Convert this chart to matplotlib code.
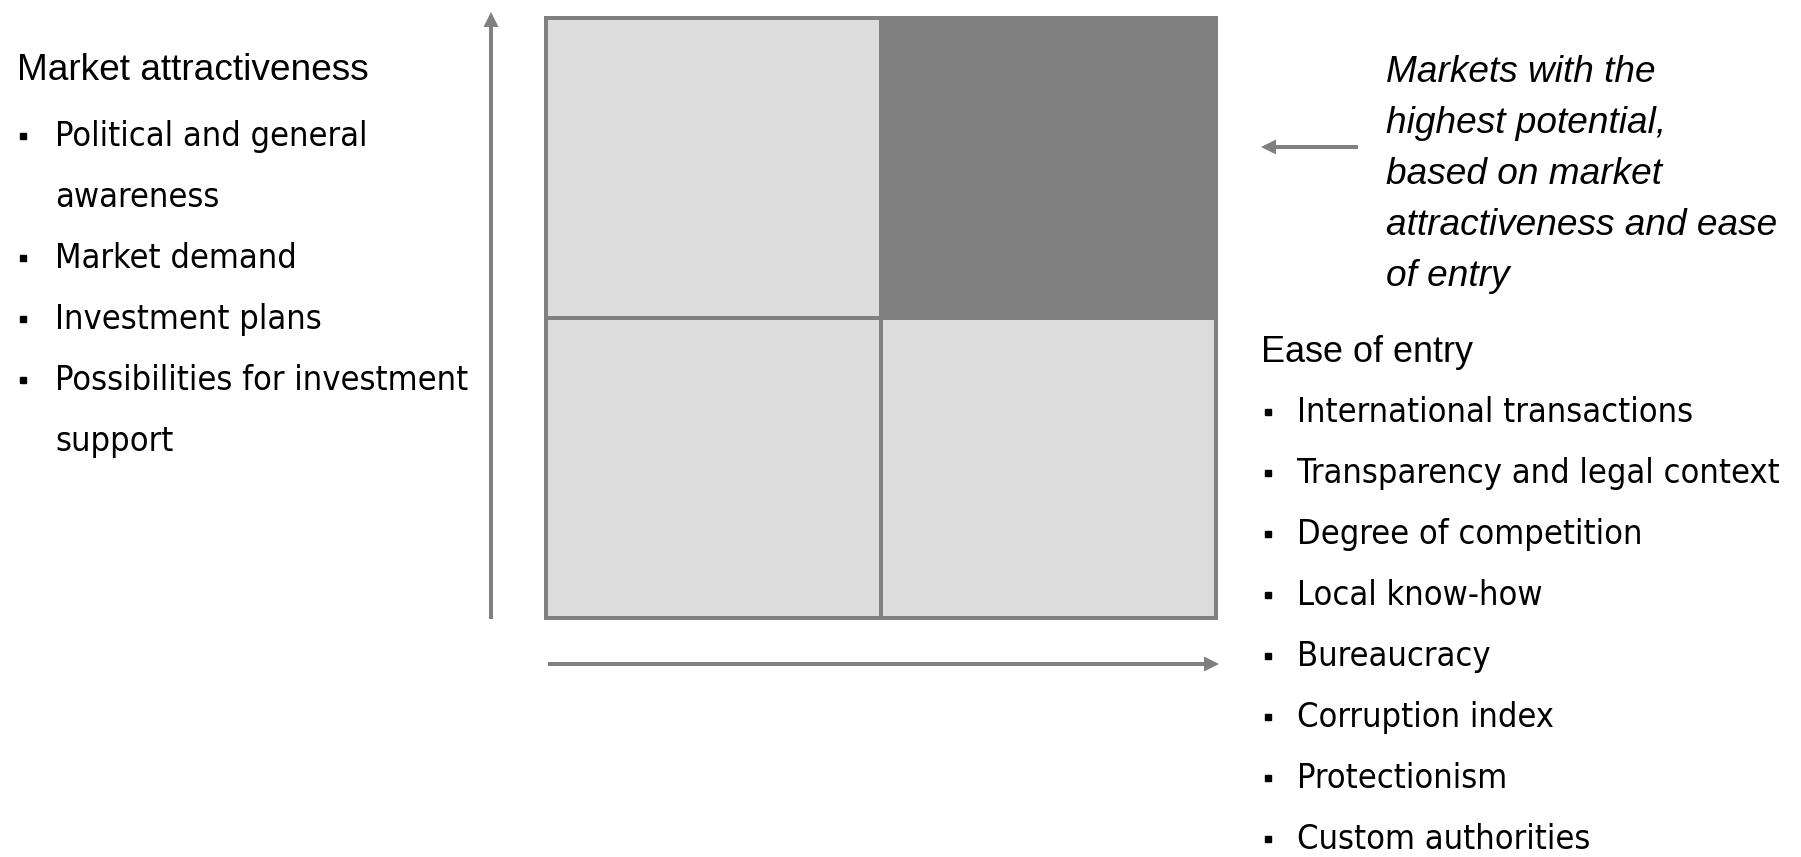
import matplotlib
matplotlib.use("Agg")
import matplotlib.pyplot as plt
from matplotlib import font_manager
from matplotlib.font_manager import FontProperties
from matplotlib.patches import Rectangle

# text content
attract_title = "Market attractiveness"
attract_items = [["Political and general", "awareness"],
                 ["Market demand"],
                 ["Investment plans"],
                 ["Possibilities for investment", "support"]]
entry_title = "Ease of entry"
entry_items = ["International transactions",
               "Transparency and legal context",
               "Degree of competition",
               "Local know-how",
               "Bureaucracy",
               "Corruption index",
               "Protectionism",
               "Custom authorities"]
note_lines = ["Markets with the",
              "highest potential,",
              "based on market",
              "attractiveness and ease",
              "of entry"]

# quadrants: (column, row) -> fill, row 1 = top
quad_cells = [(0, 0), (1, 0), (0, 1), (1, 1)]
quad_fill = ["#dcdcdc", "#dcdcdc", "#dcdcdc", "#808080"]

GREY = "#808080"


def narrow_font():
    # look for a condensed sans face, otherwise plain Liberation Sans
    for f in font_manager.fontManager.ttflist:
        nm = f.name.lower()
        if ("narrow" in nm or "condensed" in nm or f.stretch in ("condensed", "semi-condensed")) \
                and f.style == "normal" and f.weight in (400, "normal", "regular") \
                and "mono" not in nm and "serif" not in nm:
            return FontProperties(fname=f.fname)
    return FontProperties(family="Liberation Sans")


W, H = 1801, 857
fig = plt.figure(figsize=(W / 100, H / 100), dpi=100)
ax = fig.add_axes([0, 0, 1, 1])
ax.set_xlim(0, W)
ax.set_ylim(H, 0)
ax.axis("off")
renderer = fig.canvas.get_renderer()


def px(p):
    return p * 72 / 100


def fit_size(text, fp, width, max_px):
    # font size (pt) that gives the string the wanted pixel width
    t = ax.text(0, 0, text, fontproperties=fp, fontsize=px(max_px))
    w = t.get_window_extent(renderer).width
    t.remove()
    return px(min(max_px, max_px * width / w))


body = narrow_font()
body_pt = min(fit_size("Transparency and legal context", body, 490, 43),
              fit_size("Possibilities for investment", body, 413, 43))

# matrix
x0, x1, y0, y1 = 546, 1216, 18, 618
xm, ym = 881, 318
for (c, r), col in zip(quad_cells, quad_fill):
    left = x0 if c == 0 else xm
    top = ym if r == 0 else y0
    w = (xm - x0) if c == 0 else (x1 - xm)
    h = (y1 - ym) if r == 0 else (ym - y0)
    ax.add_patch(Rectangle((left, top), w, h, facecolor=col,
                           edgecolor=GREY, lw=px(4), zorder=1))
# dark cell covers its own border
ax.add_patch(Rectangle((xm - 2, y0 - 2), x1 - xm + 4, ym - y0 + 4,
                       facecolor=GREY, edgecolor="none", zorder=2))

# axis arrows
arr = dict(width=4, head_width=15, head_length=15, length_includes_head=True,
           color=GREY, lw=0, zorder=3)
ax.arrow(491, 619, 0, 12 - 619, **arr)
ax.arrow(548, 664, 1219 - 548, 0, **arr)
ax.arrow(1358, 147, 1261 - 1358, 0, **arr)

# left block
ax.text(17, 80, attract_title, fontsize=px(37), family="Liberation Sans", va="baseline")
line_h = 61
base = 146
n = 0
for item in attract_items:
    ax.plot(23, base + n * line_h - 10, marker="s", ms=px(6.5), color="black", zorder=4)
    for ln in item:
        ax.text(55, base + n * line_h, ln, fontproperties=body, fontsize=body_pt,
                va="baseline")
        n += 1

# italic note
for i, ln in enumerate(note_lines):
    ax.text(1386, 82 + i * 51, ln, fontsize=px(37), family="Liberation Sans",
            style="italic", va="baseline")

# right block
ax.text(1261, 362, entry_title, fontsize=px(36), family="Liberation Sans", va="baseline")
for i, ln in enumerate(entry_items):
    yb = 422 + i * 61
    ax.plot(1268, yb - 10, marker="s", ms=px(6.5), color="black", zorder=4)
    ax.text(1297, yb, ln, fontproperties=body, fontsize=body_pt, va="baseline")

fig.savefig("out.png", dpi=100)
